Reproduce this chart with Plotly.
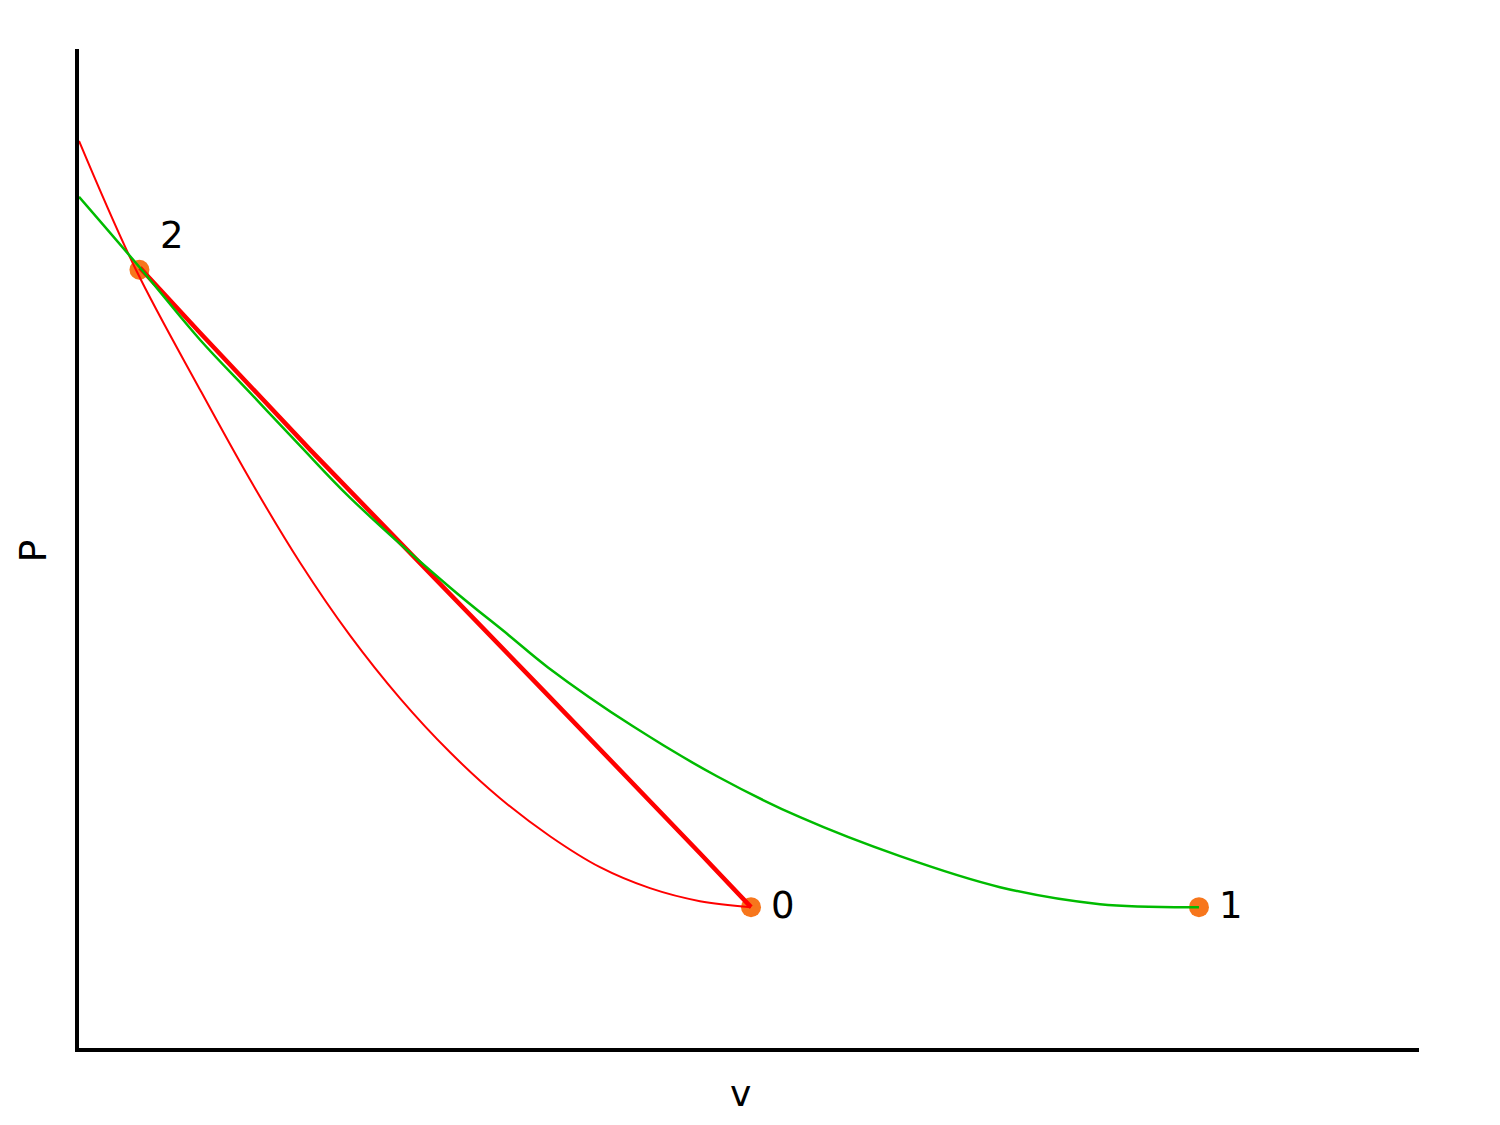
import plotly.graph_objects as go

# Data (arbitrary units: V in [0,10], P in [0,10])
green_v = [0.0, 0.455, 0.903, 1.276, 1.649, 2.022, 2.769, 3.209, 3.500, 4.134,
           4.761, 5.381, 6.127, 6.873, 7.619, 8.358]
green_p = [8.52, 7.81, 7.09, 6.56, 6.03, 5.51, 4.61, 4.13, 3.81, 3.22,
           2.72, 2.31, 1.92, 1.61, 1.44, 1.41]

thin_red_v = [0.0, 0.425, 0.903, 1.276, 1.649, 2.022, 2.396, 2.769, 3.142, 3.515,
              3.888, 4.261, 4.634, 5.015]
thin_red_p = [9.08, 7.79, 6.59, 5.69, 4.86, 4.13, 3.50, 2.96, 2.50, 2.12,
              1.81, 1.60, 1.47, 1.41]

thick_red_v = [0.455, 0.903, 1.724, 2.769, 3.515, 4.634, 5.015]
thick_red_p = [7.81, 7.16, 5.99, 4.55, 3.51, 1.95, 1.41]

point_v = [0.451, 5.015, 8.358]
point_p = [7.79, 1.41, 1.41]
point_labels = ["2", "0", "1"]

fig = go.Figure()

fig.add_trace(go.Scatter(x=point_v, y=point_p, mode="markers",
                         marker=dict(color="#f7761c", size=20, line=dict(width=0)),
                         hoverinfo="skip"))
fig.add_trace(go.Scatter(x=thin_red_v, y=thin_red_p, mode="lines",
                         line=dict(color="#ff0000", width=2, shape="spline", smoothing=1)))
fig.add_trace(go.Scatter(x=thick_red_v, y=thick_red_p, mode="lines",
                         line=dict(color="#ff0000", width=4.5, shape="linear")))
fig.add_trace(go.Scatter(x=green_v, y=green_p, mode="lines",
                         line=dict(color="#00bb00", width=2.5, shape="spline", smoothing=1)))

label_shift = {"2": (33, 34), "0": (32, 2), "1": (32, 2)}
for v, p, t in zip(point_v, point_p, point_labels):
    dx, dy = label_shift[t]
    fig.add_annotation(x=v, y=p, text=t, showarrow=False, xshift=dx, yshift=dy,
                       xanchor="center", yanchor="middle",
                       font=dict(size=37, color="#000000", family="DejaVu Sans"))

fig.add_annotation(xref="paper", yref="paper", x=0.4933, y=0, text="v", showarrow=False,
                   xanchor="center", yanchor="middle", yshift=-45,
                   font=dict(size=36, color="#000000", family="DejaVu Sans"))
fig.add_annotation(xref="paper", yref="paper", x=0, y=0.5, text="P", showarrow=False,
                   xanchor="center", yanchor="middle",
                   textangle=-90, xshift=-47, yshift=-3,
                   font=dict(size=38, color="#000000", family="DejaVu Sans"))

fig.update_layout(
    width=1492, height=1117,
    margin=dict(l=71, r=81, t=41, b=77),
    paper_bgcolor="white", plot_bgcolor="white",
    showlegend=False,
    font=dict(family="DejaVu Sans"),
)
fig.update_xaxes(range=[0, 10], showgrid=False, zeroline=False, showticklabels=False,
                 ticks="", showline=True, linecolor="black", linewidth=4)
fig.update_yaxes(range=[0, 10], showgrid=False, zeroline=False, showticklabels=False,
                 ticks="", showline=True, linecolor="black", linewidth=4)

fig.write_html("out.html")
